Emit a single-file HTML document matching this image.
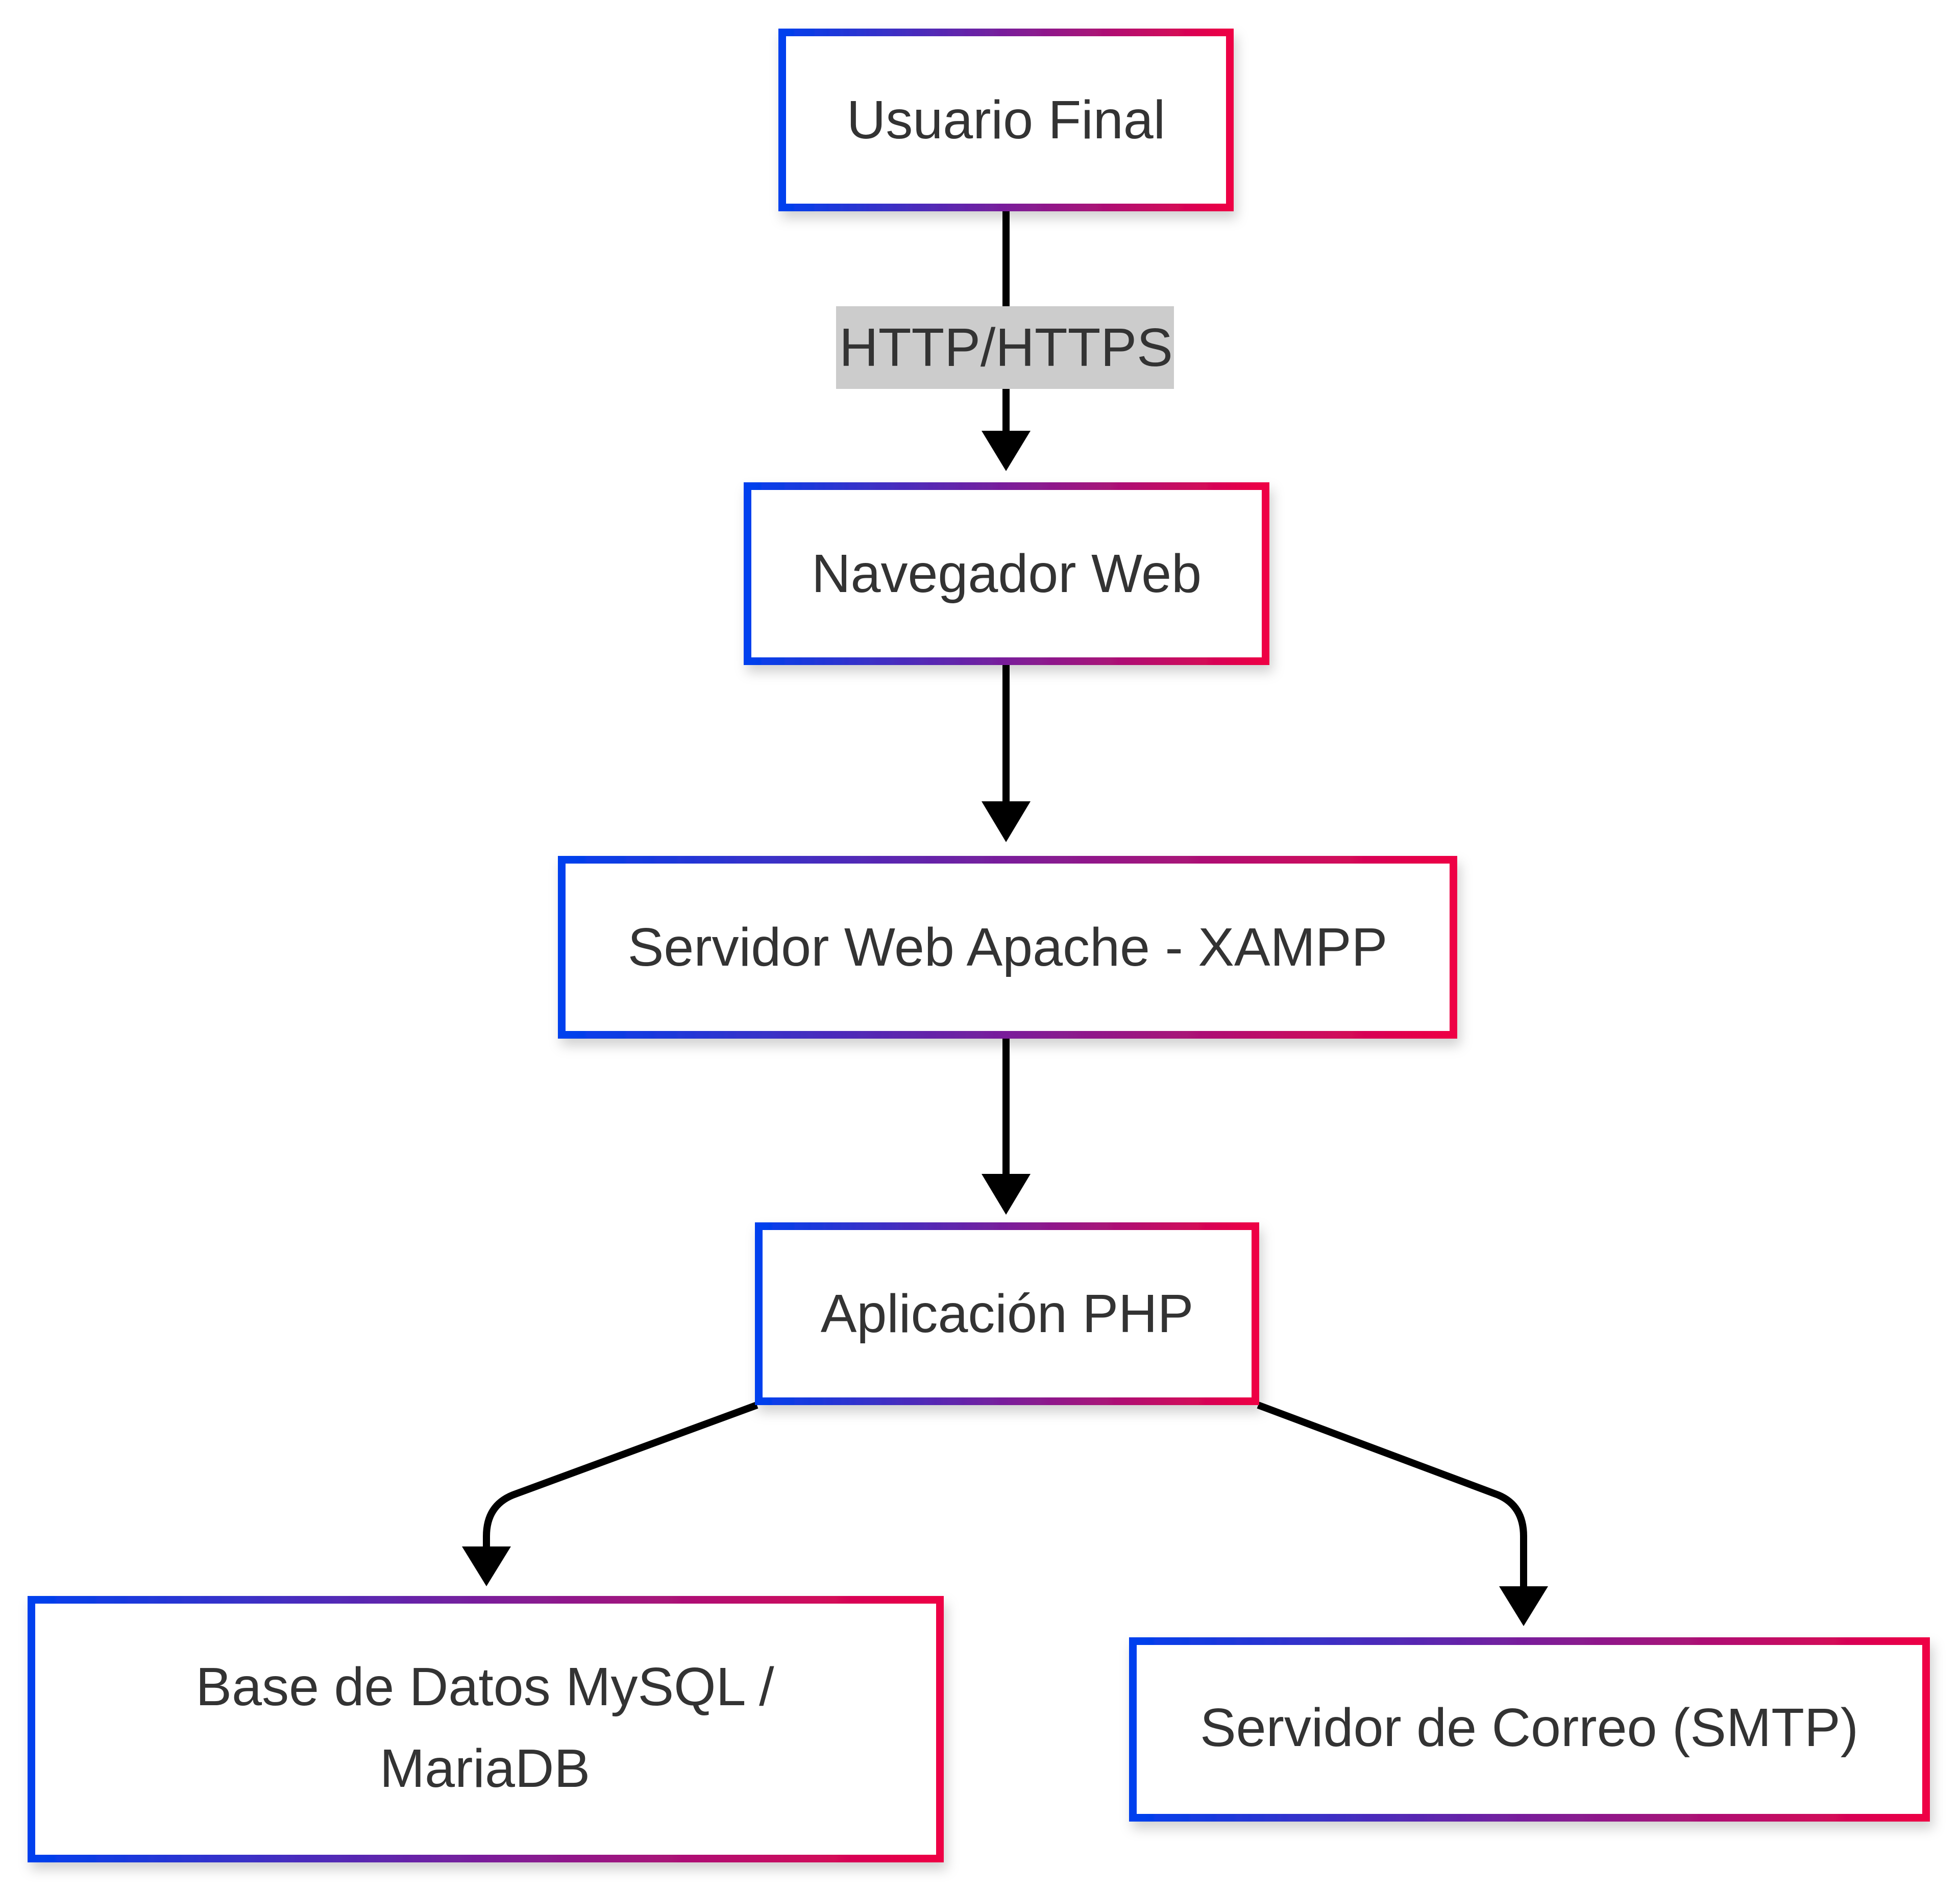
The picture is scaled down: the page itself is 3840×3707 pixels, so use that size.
<!DOCTYPE html>
<html><head><meta charset="utf-8"><style>
html,body{margin:0;padding:0;background:#fff;}
svg{display:block}
text{font-family:"Liberation Sans",Arial,sans-serif;fill:#333;font-size:106px;}
</style></head><body>
<svg width="3840" height="3707" viewBox="0 0 3840 3707" xmlns="http://www.w3.org/2000/svg">
<defs>
<linearGradient id="g" x1="0" y1="0" x2="1" y2="0">
<stop offset="0" stop-color="#0040ee"/><stop offset="0.5" stop-color="#7a1e9a"/><stop offset="1" stop-color="#ee0044"/>
</linearGradient>
<filter id="sh" x="-10%" y="-10%" width="120%" height="130%">
<feDropShadow dx="6" dy="14" stdDeviation="12" flood-color="#000" flood-opacity="0.18"/>
</filter>
</defs>
<g fill="none" stroke="#000" stroke-width="14">
<line x1="1971" y1="414" x2="1971" y2="850"/>
<line x1="1971" y1="1303" x2="1971" y2="1580"/>
<line x1="1971" y1="2035" x2="1971" y2="2310"/>
<path d="M1483 2753 L1005 2929 Q953 2950 953 3010 L953 3035"/>
<path d="M2465 2753 L2935 2929 Q2985 2950 2985 3010 L2985 3115"/>
</g>
<g fill="#000">
<polygon points="1923,844 2019,844 1971,923"/>
<polygon points="1923,1570 2019,1570 1971,1650"/>
<polygon points="1923,2300 2019,2300 1971,2380"/>
<polygon points="905,3030 1001,3030 953,3108"/>
<polygon points="2937,3108 3033,3108 2985,3186"/>
</g>
<rect x="1638" y="600" width="662" height="162" fill="#ccc"/>
<text x="1971" y="681" text-anchor="middle" dominant-baseline="central">HTTP/HTTPS</text>
<g fill="#fff" stroke="url(#g)" stroke-width="15" filter="url(#sh)">
<rect x="1532.5" y="63.5" width="877" height="343"/>
<rect x="1464.5" y="952.5" width="1015" height="343"/>
<rect x="1100.5" y="1684.5" width="1747" height="343"/>
<rect x="1486.5" y="2402.5" width="973" height="343"/>
<rect x="61.5" y="3134.5" width="1780" height="507"/>
<rect x="2219.5" y="3215.5" width="1554" height="346"/>
</g>
<g text-anchor="middle" dominant-baseline="central">
<text x="1971" y="235">Usuario Final</text>
<text x="1972" y="1124">Navegador Web</text>
<text x="1974" y="1856">Servidor Web Apache - XAMPP</text>
<text x="1973" y="2574">Aplicación PHP</text>
<text x="950" y="3305">Base de Datos MySQL /</text>
<text x="950" y="3465">MariaDB</text>
<text x="2996" y="3385">Servidor de Correo (SMTP)</text>
</g>
</svg>
</body></html>
